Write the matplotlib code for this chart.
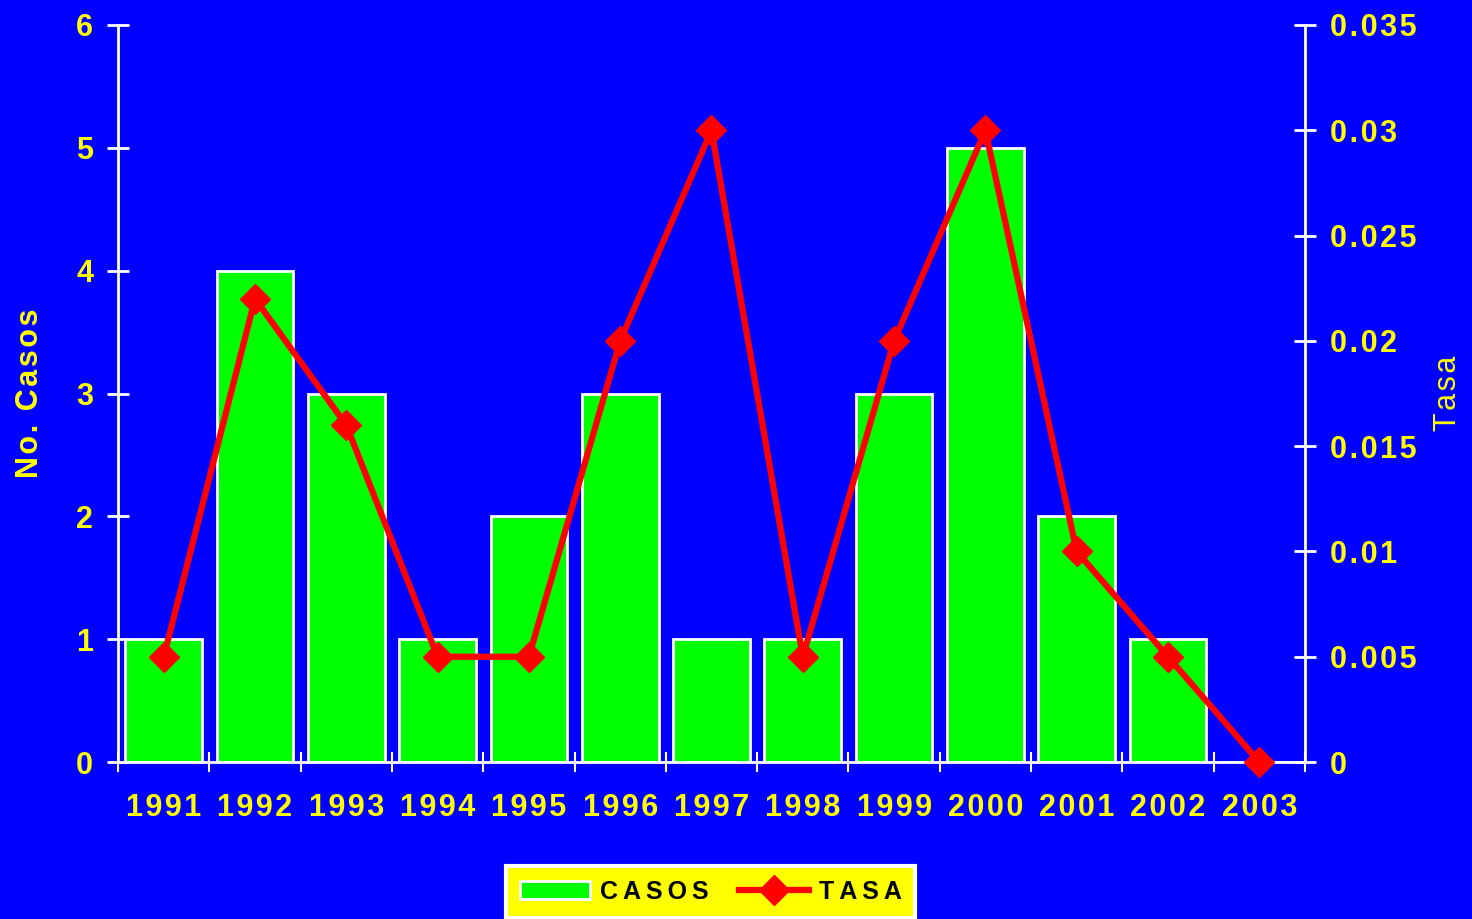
import matplotlib.pyplot as plt
import numpy as np

years = ['1991', '1992', '1993', '1994', '1995', '1996', '1997',
         '1998', '1999', '2000', '2001', '2002', '2003']
casos = [1, 4, 3, 1, 2, 3, 1, 1, 3, 5, 2, 1, 0]
tasa = [0.005, 0.022, 0.016, 0.005, 0.005, 0.02, 0.03,
        0.005, 0.02, 0.03, 0.01, 0.005, 0.0]
tasa_ticks = [0, 0.005, 0.01, 0.015, 0.02, 0.025, 0.03, 0.035]
tasa_labels = ['0', '0.005', '0.01', '0.015', '0.02', '0.025', '0.03', '0.035']

blue = '#0000FF'
yellow = '#FFFF00'
HAIR = '\u200a'
THIN = '\u2009'


def spaced(s, sep=HAIR):
    # letter spacing like the original
    return sep.join(s)


plt.rcParams['font.family'] = ['Liberation Sans', 'DejaVu Sans']

fig = plt.figure(figsize=(14.72, 9.19), dpi=100, facecolor=blue)
ax = fig.add_axes([0.0802, 0.1708, 0.8063, 0.802])
ax.set_facecolor(blue)

x = np.arange(len(years))
ax.bar(x, casos, width=0.84, color='#00FF00', edgecolor='white', linewidth=2, zorder=2)
ax.set_xlim(-0.5, len(years) - 0.5)
ax.set_ylim(0, 6)
ax.set_yticks(range(0, 7))
ax.set_yticklabels([str(i) for i in range(0, 7)])

# ticks at category boundaries, labels at centres
ax.set_xticks(np.arange(-0.5, len(years)), minor=False)
ax.set_xticklabels([])
ax.set_xticks(x, minor=True)
ax.set_xticklabels([spaced(y) for y in years], minor=True)
ax.tick_params(axis='x', which='major', direction='inout', length=14, width=1.5, color='white')
ax.tick_params(axis='x', which='minor', length=0, pad=22, labelsize=22, labelcolor=yellow)
for lab in ax.get_xticklabels(minor=True):
    lab.set_fontweight('bold')

ax.tick_params(axis='y', direction='inout', length=16, width=2, color='white',
               labelsize=22, labelcolor=yellow, pad=10)
for lab in ax.get_yticklabels():
    lab.set_fontweight('bold')

for side in ['top', 'right']:
    ax.spines[side].set_visible(False)
for side in ['left', 'bottom']:
    ax.spines[side].set_color('white')
    ax.spines[side].set_linewidth(2)

ax.set_ylabel(spaced('No. Casos'), color=yellow, fontsize=22, fontweight='bold', labelpad=22)

ax2 = ax.twinx()
ax2.patch.set_visible(False)
ax2.plot(x, tasa, color='red', linewidth=4.5, marker='D', markersize=15,
         clip_on=False, zorder=5)
ax2.set_ylim(0, 0.035)
ax2.set_yticks(tasa_ticks)
ax2.set_yticklabels([spaced(t) for t in tasa_labels])
ax2.tick_params(axis='y', direction='inout', length=16, width=2, color='white',
                labelsize=22, labelcolor=yellow, pad=10)
for lab in ax2.get_yticklabels():
    lab.set_fontweight('bold')
for side in ['top', 'left', 'bottom']:
    ax2.spines[side].set_visible(False)
ax2.spines['right'].set_color('white')
ax2.spines['right'].set_linewidth(2)
ax2.set_ylabel(spaced('Tasa'), color=yellow, fontsize=22, labelpad=12)

bars = ax.containers[0]
line = ax2.get_lines()[0]
leg = fig.legend([bars, line], [spaced('CASOS', THIN), spaced('TASA', THIN)],
                 loc='lower center', bbox_to_anchor=(0.483, -0.012), ncol=2, frameon=True,
                 facecolor=yellow, edgecolor='white', framealpha=1,
                 fancybox=False, prop={'weight': 'bold', 'size': 18},
                 handlelength=2.8, handletextpad=0.4, columnspacing=1.2, borderpad=0.55)
leg.get_frame().set_linewidth(3)

fig.savefig('out.png', dpi=100, facecolor=blue)
